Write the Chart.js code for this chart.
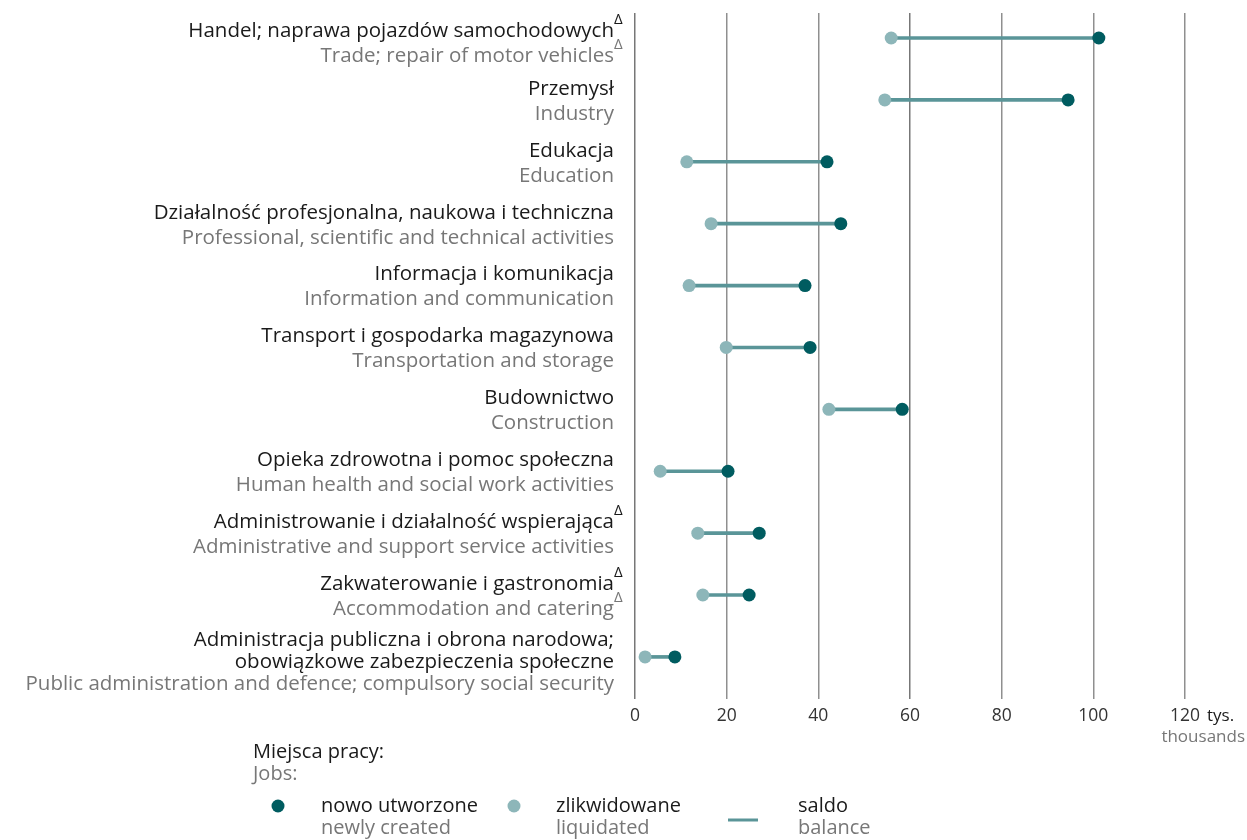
<!DOCTYPE html>
<html>
<head>
<meta charset="utf-8">
<script src="https://cdn.jsdelivr.net/npm/chart.js@4"></script>
<style>
  html, body { margin: 0; padding: 0; background: #ffffff; }
  #wrap { width: 1247px; height: 840px; position: relative; }
</style>
</head>
<body>
<div id="wrap"><canvas id="c" width="1247" height="840"></canvas></div>
<script>
// ---- data ----
const labelsPL = [
  "Handel; naprawa pojazdów samochodowych",
  "Przemysł",
  "Edukacja",
  "Działalność profesjonalna, naukowa i techniczna",
  "Informacja i komunikacja",
  "Transport i gospodarka magazynowa",
  "Budownictwo",
  "Opieka zdrowotna i pomoc społeczna",
  "Administrowanie i działalność wspierająca",
  "Zakwaterowanie i gastronomia",
  "Administracja publiczna i obrona narodowa;\nobowiązkowe zabezpieczenia społeczne"
];
const labelsEN = [
  "Trade; repair of motor vehicles",
  "Industry",
  "Education",
  "Professional, scientific and technical activities",
  "Information and communication",
  "Transportation and storage",
  "Construction",
  "Human health and social work activities",
  "Administrative and support service activities",
  "Accommodation and catering",
  "Public administration and defence; compulsory social security"
];
const deltaPL = [true, false, false, false, false, false, false, false, true, true, false];
const deltaEN = [true, false, false, false, false, false, false, false, false, true, false];
const newlyCreated = [101.2, 94.5, 41.9, 44.9, 37.1, 38.2, 58.3, 20.3, 27.1, 24.9, 8.7];
const liquidated   = [55.9, 54.5, 11.3, 16.6, 11.8, 19.9, 42.3, 5.5, 13.7, 14.8, 2.2];
const xTicks = [0, 20, 40, 60, 80, 100, 120];
const unitPL = "tys.";
const unitEN = "thousands";
const legendTitlePL = "Miejsca pracy:";
const legendTitleEN = "Jobs:";
const legendPL = ["nowo utworzone", "zlikwidowane", "saldo"];
const legendEN = ["newly created", "liquidated", "balance"];

// ---- style ----
const FONT = "'Open Sans', 'Noto Sans', sans-serif";
const C_DARK = "#005c60";
const C_LIGHT = "#8db6b9";
const C_LINE = "#5a9598";
const C_TXT = "#1a1a1a";
const C_SUB = "#777777";

const idx = labelsPL.map((_, i) => i);
const balanceData = idx.map(i => ({ y: i, x: [liquidated[i], newlyCreated[i]] }));
const createdData = idx.map(i => ({ x: newlyCreated[i], y: i }));
const liquidData = idx.map(i => ({ x: liquidated[i], y: i }));

const labelPlugin = {
  id: 'labelPlugin',
  afterDraw(chart) {
    const ctx = chart.ctx;
    const ys = chart.scales.y;
    const xs = chart.scales.x;
    const right = 614;
    ctx.save();
    ctx.textBaseline = 'middle';
    idx.forEach(i => {
      const yc = ys.getPixelForValue(i);
      const pl = labelsPL[i].split("\n");
      const lines = pl.map(t => ({ t, c: C_TXT })).concat([{ t: labelsEN[i], c: C_SUB }]);
      const n = lines.length;
      const sp = n > 2 ? 22 : 25;
      const center = yc + (n > 2 ? 5 : 1.5);
      let y0 = center - sp * (n - 1) / 2;
      if (y0 < 31) y0 = 31;
      lines.forEach((ln, k) => {
        const y = y0 + k * sp;
        ctx.font = "20.5px " + FONT;
        ctx.fillStyle = ln.c;
        ctx.textAlign = 'right';
        ctx.fillText(ln.t, right, y);
        const isPL = k < n - 1;
        const hasDelta = isPL ? (k === n - 2 && deltaPL[i]) : deltaEN[i];
        if (hasDelta) {
          ctx.font = "15px " + FONT;
          ctx.textAlign = 'left';
          ctx.fillText("Δ", right, y - 11);
        }
      });
    });
    // axis unit
    ctx.font = "17px " + FONT;
    ctx.fillStyle = C_TXT;
    ctx.textAlign = 'left';
    const x120 = xs.getPixelForValue(120);
    ctx.fillText(unitPL, x120 + 22, 716);
    ctx.fillStyle = C_SUB;
    ctx.font = "17px " + FONT;
    ctx.textAlign = 'right';
    ctx.fillText(unitEN, 1245, 737);

    // legend
    ctx.textAlign = 'left';
    ctx.font = "20px " + FONT;
    ctx.fillStyle = C_TXT;
    ctx.fillText(legendTitlePL, 253, 752);
    ctx.fillStyle = C_SUB;
    ctx.fillText(legendTitleEN, 253, 774);
    const items = [
      { kind: 'dot', color: C_DARK, mx: 278, tx: 321 },
      { kind: 'dot', color: C_LIGHT, mx: 514, tx: 556 },
      { kind: 'line', color: C_LINE, mx: 743, tx: 798 }
    ];
    items.forEach((it, k) => {
      if (it.kind === 'dot') {
        ctx.beginPath();
        ctx.fillStyle = it.color;
        ctx.arc(it.mx, 806, 6.5, 0, Math.PI * 2);
        ctx.fill();
      } else {
        ctx.strokeStyle = it.color;
        ctx.lineWidth = 3;
        ctx.beginPath();
        ctx.moveTo(it.mx - 15, 820);
        ctx.lineTo(it.mx + 15, 820);
        ctx.stroke();
      }
      ctx.fillStyle = C_TXT;
      ctx.fillText(legendPL[k], it.tx, 806);
      ctx.fillStyle = C_SUB;
      ctx.fillText(legendEN[k], it.tx, 828);
    });
    ctx.restore();
  }
};

new Chart(document.getElementById('c'), {
  type: 'bar',
  data: {
    datasets: [
      {
        type: 'bar', label: 'saldo', indexAxis: 'y', data: balanceData,
        backgroundColor: C_LINE, barThickness: 3, order: 3,
        xAxisID: 'x', yAxisID: 'y'
      },
      {
        type: 'scatter', label: 'zlikwidowane', data: liquidData,
        backgroundColor: C_LIGHT, borderWidth: 0, pointRadius: 6.5, order: 2,
        xAxisID: 'x', yAxisID: 'y'
      },
      {
        type: 'scatter', label: 'nowo utworzone', data: createdData,
        backgroundColor: C_DARK, borderWidth: 0, pointRadius: 6.5, order: 1,
        xAxisID: 'x', yAxisID: 'y'
      }
    ]
  },
  options: {
    responsive: false,
    animation: false,
    indexAxis: 'y',
    layout: { padding: { left: 635, right: 62, top: 13, bottom: 0 } },
    plugins: { legend: { display: false }, tooltip: { enabled: false } },
    scales: {
      x: {
        type: 'linear', position: 'bottom', min: 0, max: 120, offset: false,
        afterBuildTicks: s => { s.ticks = xTicks.map(v => ({ value: v })); },
        afterFit: s => { s.height = 141; },
        grid: {
          color: ctx => (ctx.tick && (ctx.tick.value === 0 || ctx.tick.value === 60)) ? '#777777' : '#8f8f8f',
          lineWidth: 1.5, drawTicks: false, offset: false
        },
        border: { display: false },
        ticks: { color: '#333333', font: { family: FONT, size: 17.5 }, padding: 7, maxRotation: 0 }
      },
      y: {
        type: 'linear', reverse: true, min: -0.404, max: 10.68, offset: false,
        grid: { offset: false },
        display: false
      }
    }
  },
  plugins: [labelPlugin]
});
</script>
</body>
</html>
